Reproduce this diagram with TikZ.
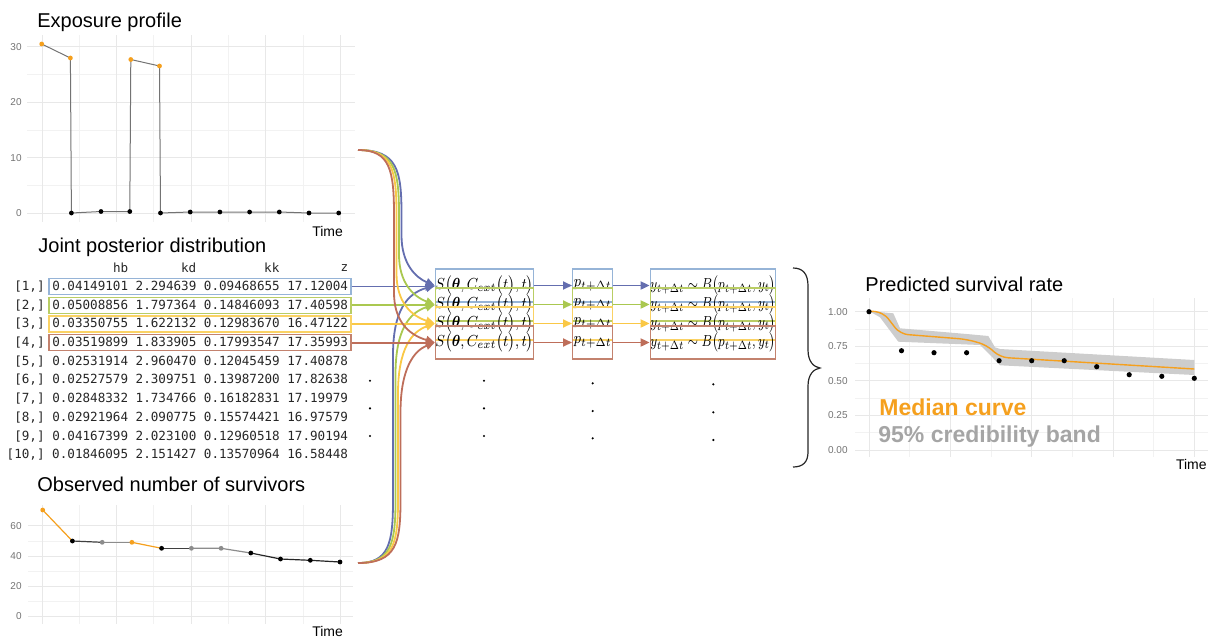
\documentclass[tikz,border=0pt]{standalone}
\usepackage{amsmath}
\usepackage[no-math]{fontspec}
\setmainfont{Liberation Sans}
\setmonofont{DejaVu Sans Mono}
\usetikzlibrary{arrows.meta}

\definecolor{lineblue}{RGB}{100,110,175}
\definecolor{boxblue}{RGB}{150,180,215}
\definecolor{linegreen}{RGB}{170,200,80}
\definecolor{boxgreen}{RGB}{185,205,100}
\definecolor{lineyellow}{RGB}{250,200,70}
\definecolor{boxyellow}{RGB}{250,210,100}
\definecolor{linebrown}{RGB}{190,110,90}
\definecolor{boxbrown}{RGB}{195,130,110}
\definecolor{ptorange}{RGB}{245,160,30}
\definecolor{bandgray}{RGB}{205,205,205}
\definecolor{leggray}{RGB}{165,165,165}

% texto comprimido horizontalmente
\newcommand{\hsq}[2]{\scalebox{#1}[1]{#2}}

\tikzset{
  ttl/.style={anchor=base west, inner sep=0pt, font=\fontsize{10}{12}\selectfont},
  tick/.style={anchor=east, inner sep=0pt, text=black!55, font=\fontsize{5}{6}\selectfont},
  timelbl/.style={anchor=base east, inner sep=0pt, font=\fontsize{7}{8}\selectfont},
  gridmaj/.style={draw=black!9, line width=0.5pt},
  gridmin/.style={draw=black!5, line width=0.4pt},
  dataline/.style={draw=black!55, line width=0.5pt},
  rowtxt/.style={anchor=east, inner sep=0pt, text=black!85, font=\fontsize{6.3}{7}\ttfamily},
  rowbox/.style={draw=#1, line width=0.7pt, minimum width=151pt, minimum height=8pt, inner sep=0pt},
  sbox/.style={draw=#1, line width=0.7pt, minimum width=47.5pt, minimum height=16.5pt, inner sep=0pt, font=\fontsize{8}{9}\selectfont},
  pbox/.style={sbox=#1, minimum width=20pt},
  ybox/.style={sbox=#1, minimum width=60pt},
  flow/.style={draw=#1, line width=0.9pt, ->},
  legtxt/.style={anchor=base west, inner sep=0pt, font=\fontsize{11.5}{13}\selectfont\bfseries},
}

\begin{document}
\begin{tikzpicture}[x=0.5pt, y=-0.5pt, >={Triangle[length=4.5pt,width=4pt]}]
  \useasboundingbox (0,0) rectangle (1208,638);

  % --- Exposure profile ---
  \node[ttl] (ttlexp) at (37,27.3) {Exposure profile};
  \foreach \x in {79.7,153.8,228.4,302.9}
    \draw[gridmin] (\x,35) -- (\x,222);
  \foreach \y in {74.5,130,185.5}
    \draw[gridmin] (27,\y) -- (355,\y);
  \foreach \x in {42.7,116.7,191,265.7,340}
    \draw[gridmaj] (\x,35) -- (\x,222);
  \foreach \y/\v in {46.7/30,102.3/20,157.8/10,213.3/0} {
    \draw[gridmaj] (27,\y) -- (355,\y);
    \node[tick] at (22,\y) {\v};
  }
  \draw[dataline] (41.7,44) -- (70.4,58) -- (71.4,213) -- (101,211.5) -- (129.8,211.5)
        -- (130.8,59.5) -- (159.5,66) -- (160.5,213) -- (190.2,212) -- (219.9,212)
        -- (249.6,212) -- (279.3,212) -- (309,213) -- (338.7,213);
  \foreach \x/\y in {41.7/44,70.4/58,130.8/59.5,159.5/66}
    \fill[ptorange] (\x,\y) circle (1.2pt);
  \foreach \x/\y in {71.4/213,101/211.5,129.8/211.5,160.5/213,190.2/212,219.9/212,
                     249.6/212,279.3/212,309/213,338.7/213}
    \fill[black] (\x,\y) circle (1.2pt);
  \node[timelbl] (timeexp) at (343.3,236) {Time};
  \coordinate (expsrc) at (358,150);

  % --- Joint posterior distribution ---
  \node[ttl] (ttljoint) at (38,252.5) {Joint posterior distribution};
  \foreach \x/\n in {128.6/hb,196.6/kd,279.8/kk,348.5/z}
    \node[rowtxt] (hdr\n) at (\x,268) {\n};
  \foreach \i/\vals [count=\k from 0] in {
      1/0.04149101 2.294639 0.09468655 17.12004,
      2/0.05008856 1.797364 0.14846093 17.40598,
      3/0.03350755 1.622132 0.12983670 16.47122,
      4/0.03519899 1.833905 0.17993547 17.35993,
      5/0.02531914 2.960470 0.12045459 17.40878,
      6/0.02527579 2.309751 0.13987200 17.82638,
      7/0.02848332 1.734766 0.16182831 17.19979,
      8/0.02921964 2.090775 0.15574421 16.97579,
      9/0.04167399 2.023100 0.12960518 17.90194,
      10/0.01846095 2.151427 0.13570964 16.58448}
    \node[rowtxt] (row\i) at (348.5,{286.5+18.7*\k}) {[\i,] \vals};

  % --- Cadenas de muestreo (4 primeras filas) ---
  \foreach \i/\cl/\yy in {1/blue/285.5,2/green/304.5,3/yellow/323.5,4/brown/342.5} {
    \node[rowbox=box\cl] (rb\i) at (200,{286.5+18.7*(\i-1)}) {};
    \node[sbox=box\cl] (S\i) at (484.5,\yy)
      {\hsq{0.86}{$S\bigl(\boldsymbol{\theta},C_{ext}\bigl(t\bigr),t\bigr)$}};
    \node[pbox=box\cl] (P\i) at (592.7,\yy) {\hsq{0.85}{$p_{t+\Delta t}$}};
    \node[ybox=box\cl] (Y\i) at (713,\yy)
      {\hsq{0.77}{$y_{t+\Delta t}\sim B\bigl(p_{t+\Delta t},y_t\bigr)$}};
  }

  % --- Observed number of survivors ---
  \node[ttl] (ttlsurv) at (37,491.7) {Observed number of survivors};
  \foreach \x in {79.7,153.8,228.4,302.9}
    \draw[gridmin] (\x,505) -- (\x,624);
  \foreach \y in {541,571,601}
    \draw[gridmin] (28,\y) -- (353,\y);
  \foreach \x in {42.7,116.7,191,265.7,340}
    \draw[gridmaj] (\x,505) -- (\x,624);
  \foreach \y/\v in {525.7/60,556/40,586/20,616/0} {
    \draw[gridmaj] (28,\y) -- (353,\y);
    \node[tick] at (22,\y) {\v};
  }
  \draw[ptorange, line width=0.6pt] (42.7,510) -- (72.4,541);
  \draw[black!75, line width=0.6pt] (72.4,541) -- (102.2,542.3);
  \draw[black!45, line width=0.6pt] (102.2,542.3) -- (131.9,542.3);
  \draw[ptorange, line width=0.6pt] (131.9,542.3) -- (161.6,548.3);
  \draw[black!75, line width=0.6pt] (161.6,548.3) -- (191.4,548.3);
  \draw[black!45, line width=0.6pt] (191.4,548.3) -- (221.1,548.3) -- (250.8,553);
  \draw[black!85, line width=0.6pt] (250.8,553) -- (280.5,559) -- (310.3,560.3) -- (340,562);
  \foreach \x/\y/\c in {42.7/510/ptorange,72.4/541/black,102.2/542.3/black!45,
                        131.9/542.3/ptorange,161.6/548.3/black,191.4/548.3/black!45,
                        221.1/548.3/black!45,250.8/553/black,280.5/559/black,
                        310.3/560.3/black,340/562/black}
    \fill[\c] (\x,\y) circle (1.2pt);
  \node[timelbl] (timesurv) at (343.3,636.5) {Time};
  \coordinate (survsrc) at (358,563);

  % --- Flechas: datos -> modelo ---
  \foreach \i/\cl/\yy/\xt/\xb in {1/blue/285.5/401.5/393,2/green/304.5/399/395.5,
                                  3/yellow/323.5/396.5/398,4/brown/342.5/394/400.5} {
    \draw[flow=line\cl] (expsrc) .. controls (\xt-4,150) and (\xt,170) .. (\xt,215)
          -- (\xt,\yy-50) .. controls (\xt,\yy-22) and (\xt+14,\yy-8) .. (S\i.west);
    \draw[flow=line\cl] (survsrc) .. controls (\xb-4,563) and (\xb,543) .. (\xb,500)
          -- (\xb,\yy+70) .. controls (\xb,\yy+25) and (\xb+14,\yy+8) .. (S\i.west);
    \draw[flow=line\cl] (rb\i.east) -- (rb\i.east -| S\i.west);
    \draw[flow=line\cl] (S\i.east) -- (P\i.west);
    \draw[flow=line\cl] (P\i.east) -- (Y\i.west);
  }

  % --- Puntos suspensivos ---
  \foreach \x/\y in {370/380.7,370/408.3,370/436,484/380.7,484/408.3,484/436,
                     592.7/383.3,592.7/411,592.7/438.3,713.3/384.3,713.3/412.3,713.3/440}
    \fill[black] (\x,\y) circle (0.6pt);

  % --- Llave ---
  \coordinate (bracetip) at (820,368);
  \draw[black!85, line width=0.6pt] (793,268) .. controls (803,268) and (808,274) .. (808,286)
        -- (808,350) .. controls (808,362) and (814,367) .. (bracetip)
        .. controls (814,369) and (808,374) .. (808,386) -- (808,452)
        .. controls (808,462) and (803,467) .. (793,467);

  % --- Predicted survival rate ---
  \node[ttl] (ttlpred) at (865,291.7) {Predicted survival rate};
  \foreach \x in {909.7,991,1072.3,1153.7}
    \draw[gridmin] (\x,298) -- (\x,457);
  \foreach \y in {329,363.6,398.2,432.7}
    \draw[gridmin] (855,\y) -- (1208,\y);
  \foreach \x in {869,950.3,1031.7,1113,1194.3}
    \draw[gridmaj] (\x,298) -- (\x,457);
  \foreach \y/\v in {311.7/1.00,346.3/0.75,380.9/0.50,415.4/0.25,450/0.00} {
    \draw[gridmaj] (855,\y) -- (1208,\y);
    \node[tick] at (848,\y) {\v};
  }
  % banda de credibilidad
  \fill[bandgray] (869,311) -- (893.3,313.3) -- (900,328.3) -- (966.7,334) -- (988.3,336)
        -- (995,347.3) -- (1000,349) -- (1194.3,360) -- (1194.3,375) -- (1000,365.3)
        -- (993.3,358.3) -- (980,345) -- (898.3,341.7) -- (880,317.3) -- cycle;
  % curva mediana
  \draw[ptorange, line width=0.7pt, rounded corners=4pt] (869,311) -- (883.3,312.3)
        -- (900,334) -- (966.7,339.3) -- (986.7,345) -- (1000,357.3) -- (1194.3,369);
  \foreach \x/\y in {869/311.7,901.5/350.7,934/352.7,966.6/352.7,999.1/360.7,1031.7/360.7,
                     1064.2/360.7,1096.7/366.7,1129.2/374.7,1161.8/376.3,1194.3/378.3}
    \fill[black] (\x,\y) circle (1.3pt);
  \node[legtxt, text=ptorange] (legmed) at (879,415) {Median curve};
  \node[legtxt, text=leggray] (legband) at (878,442.7) {95\% credibility band};
  \node[timelbl] (timepred) at (1207,469) {Time};

\end{tikzpicture}
\end{document}
